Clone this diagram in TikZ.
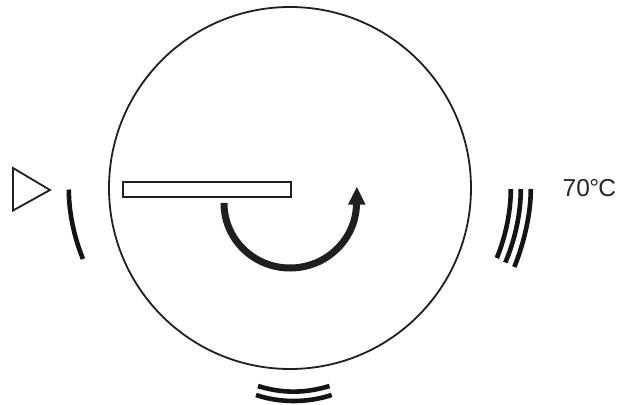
\documentclass[tikz,border=0pt]{standalone}
\usepackage{fontspec}
\setmainfont{Liberation Sans}
\tikzset{
  thinline/.style={draw=black!88,line width=1.8pt},
  heat/.style={draw=black!92,line width=4.6pt},
  turn/.style={draw=black!88,line width=7pt}
}
\begin{document}
\begin{tikzpicture}[x=1pt,y=-1pt]
\useasboundingbox (0,0) rectangle (617,404);
\fill[white] (0,0) rectangle (617,404);
\draw[thinline] (290,188) circle[radius=181];
\draw[thinline] (123,182) rectangle (291,197);
\draw[thinline,line join=miter] (13,168) -- (50,190) -- (13,210.5) -- cycle;
% rotation arrow
\draw[turn] (224,204) -- (224,203) .. controls (224,239) and (253.5,268) .. (290,268)
  .. controls (326.5,268) and (356.5,239) .. (356.5,203);
\fill[black!88] (356.8,187) -- (365.5,204.5) -- (348,204.5) -- cycle;
% left heater
\draw[heat] (68.8,189.5) .. controls (68.8,212) and (74,237) .. (83,259);
% right heaters
\draw[heat] (510.8,189) .. controls (510.8,212) and (505.5,237) .. (496.8,258);
\draw[heat] (520.8,189) .. controls (520.8,213) and (515,240) .. (505.3,262.5);
\draw[heat] (530.8,189) .. controls (530.8,214) and (524,243) .. (514.3,267);
% bottom heaters
\draw[heat] (258,386) .. controls (282,393.5) and (305,393.5) .. (329.5,386);
\draw[heat] (256,395) .. controls (280,403) and (307,403) .. (331.7,395);
\node[anchor=base west,inner sep=0pt,text=black!85,font=\fontsize{24.5}{26}\selectfont] (t) at (562.5,196.5) {70\kern-0.5pt°\kern-1ptC};
\end{tikzpicture}
\end{document}
